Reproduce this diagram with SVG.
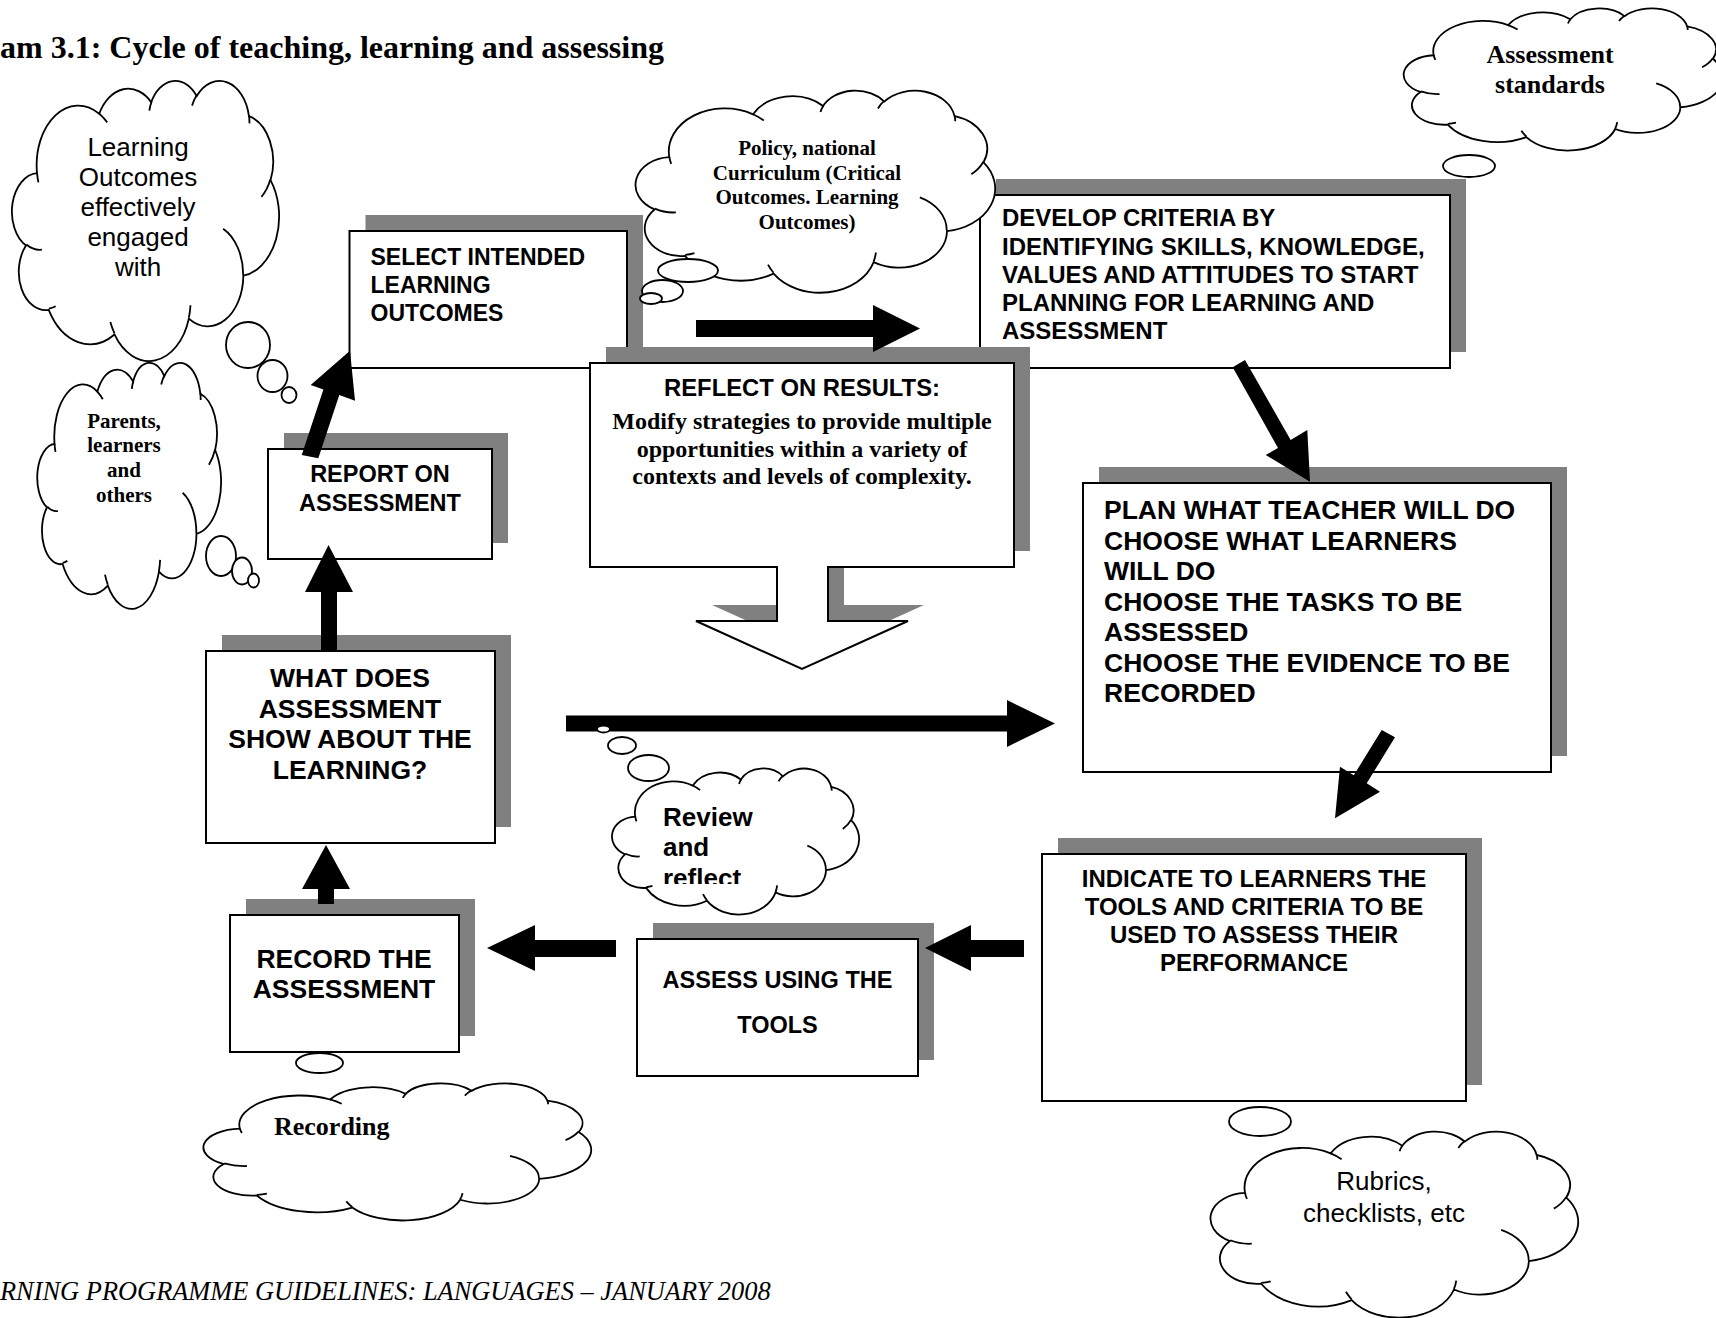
<svg xmlns="http://www.w3.org/2000/svg" width="1716" height="1318" viewBox="0 0 1716 1318">
<defs>
<style>
  .shadow{fill:#808080}
  .box{fill:#fff;stroke:#000;stroke-width:2}
  .arrow{fill:#000;stroke:none}
  .bubble{fill:#fff;stroke:#000;stroke-width:1.8}
  .sans{font-family:"Liberation Sans",Arial,sans-serif;fill:#000}
  .serif{font-family:"Liberation Serif","Times New Roman",serif;fill:#000}
  .b{font-weight:bold}
  .mid{text-anchor:middle}
</style>
<!-- thought cloud outline (office "cloud" preset), stretched to each cloud's box -->
<symbol id="cloud" viewBox="0 0 43200 43200" preserveAspectRatio="none" style="overflow:visible">
  <path d="M 3900 14370 A 6753 9190 0 0 1 14006 5201 A 5333 7267 0 0 1 22457 3431 A 4365 5945 0 0 1 29834 2478 A 4857 6595 0 0 1 38319 5573 A 5333 7273 0 0 1 41820 15457 A 6775 9220 0 0 1 37406 30200 A 5785 7867 0 0 1 28557 36811 A 6752 9215 0 0 1 16482 39264 A 7720 10543 0 0 1 5804 35470 A 4360 5918 0 0 1 2114 25546 A 4345 5945 0 0 1 3900 14370 Z" fill="#fff" stroke="#000" stroke-width="1.8" vector-effect="non-scaling-stroke"/>
  <path d="M 4693 26177 A 4345 5945 0 0 1 2162 25381 M 6928 34899 A 4360 5918 0 0 1 5820 35280 M 16478 39090 A 6752 9215 0 0 1 15810 37348 M 28827 34751 A 6752 9215 0 0 1 28560 36661 M 34129 22954 A 5785 7867 0 0 1 37380 30089 M 41798 15354 A 5333 7273 0 0 1 40349 18031 M 38324 5426 A 4857 6595 0 0 1 38401 6691 M 29078 3952 A 4857 6595 0 0 1 29821 2338 M 22141 4720 A 4365 5945 0 0 1 22500 3331 M 14000 5192 A 6753 9190 0 0 1 15300 6541 M 4127 15789 A 6753 9190 0 0 1 3900 14371" fill="none" stroke="#000" stroke-width="1.8" vector-effect="non-scaling-stroke"/>
</symbol>
<clipPath id="reviewClip"><rect x="600" y="790" width="220" height="94"/></clipPath>
</defs>

<rect x="0" y="0" width="1716" height="1318" fill="#fff"/>

<text class="serif b" x="0" y="58" font-size="32">am 3.1: Cycle of teaching, learning and assessing</text>

<!-- process boxes -->
<g id="select-outcomes">
  <rect class="shadow" x="365.5" y="215" width="277.5" height="137"/>
  <rect class="box" x="349.5" y="231" width="277.5" height="137"/>
  <text class="sans b" font-size="23" x="370.5" y="265">SELECT INTENDED</text>
  <text class="sans b" font-size="23" x="370.5" y="293">LEARNING</text>
  <text class="sans b" font-size="23" x="370.5" y="321">OUTCOMES</text>
</g>

<g id="develop-criteria">
  <rect class="shadow" x="996" y="179" width="470" height="173"/>
  <rect class="box" x="980" y="195" width="470" height="173"/>
  <text class="sans b" font-size="24" x="1002" y="226">DEVELOP CRITERIA BY</text>
  <text class="sans b" font-size="24" x="1002" y="254.5">IDENTIFYING SKILLS, KNOWLEDGE,</text>
  <text class="sans b" font-size="24" x="1002" y="283">VALUES AND ATTITUDES TO START</text>
  <text class="sans b" font-size="24" x="1002" y="311">PLANNING FOR LEARNING AND</text>
  <text class="sans b" font-size="24" x="1002" y="338.5">ASSESSMENT</text>
</g>

<g id="reflect-results">
  <path class="shadow" d="M 606 347 H 1030 V 551 H 844 V 605 H 924 L 818 653 L 712 605 H 793 V 551 H 606 Z"/>
  <path class="box" d="M 590 363 H 1014 V 567 H 828 V 621 H 908 L 802 669 L 696 621 H 777 V 567 H 590 Z"/>
  <text class="sans b mid" font-size="23.8" x="802" y="395.5">REFLECT ON RESULTS:</text>
  <text class="serif b mid" font-size="24" x="802" y="429">Modify strategies to provide multiple</text>
  <text class="serif b mid" font-size="24" x="802" y="456.5">opportunities within a variety of</text>
  <text class="serif b mid" font-size="24" x="802" y="483.5">contexts and levels of complexity.</text>
</g>

<g id="plan">
  <rect class="shadow" x="1099" y="467" width="468" height="289"/>
  <rect class="box" x="1083" y="483" width="468" height="289"/>
  <text class="sans b" font-size="26.5" x="1104" y="519">PLAN WHAT TEACHER WILL DO</text>
  <text class="sans b" font-size="26.5" x="1104" y="549.5">CHOOSE WHAT LEARNERS</text>
  <text class="sans b" font-size="26.5" x="1104" y="580">WILL DO</text>
  <text class="sans b" font-size="26.5" x="1104" y="610.5">CHOOSE THE TASKS TO BE</text>
  <text class="sans b" font-size="26.5" x="1104" y="641">ASSESSED</text>
  <text class="sans b" font-size="26.5" x="1104" y="671.5">CHOOSE THE EVIDENCE TO BE</text>
  <text class="sans b" font-size="26.5" x="1104" y="702">RECORDED</text>
</g>

<g id="report">
  <rect class="shadow" x="284" y="433" width="224" height="110"/>
  <rect class="box" x="268" y="449" width="224" height="110"/>
  <text class="sans b mid" font-size="23.5" x="380" y="482">REPORT ON</text>
  <text class="sans b mid" font-size="23.5" x="380" y="510.5">ASSESSMENT</text>
</g>

<g id="what-does-assessment-show">
  <rect class="shadow" x="222" y="635" width="289" height="192"/>
  <rect class="box" x="206" y="651" width="289" height="192"/>
  <text class="sans b mid" font-size="26.5" x="350" y="687">WHAT DOES</text>
  <text class="sans b mid" font-size="26.5" x="350" y="717.5">ASSESSMENT</text>
  <text class="sans b mid" font-size="26.5" x="350" y="748">SHOW ABOUT THE</text>
  <text class="sans b mid" font-size="26.5" x="350" y="778.5">LEARNING?</text>
</g>

<g id="record">
  <rect class="shadow" x="246" y="899" width="229" height="137"/>
  <rect class="box" x="230" y="915" width="229" height="137"/>
  <text class="sans b mid" font-size="26.5" x="344" y="967.5">RECORD THE</text>
  <text class="sans b mid" font-size="26.5" x="344" y="997.5">ASSESSMENT</text>
</g>

<g id="assess-tools">
  <rect class="shadow" x="653" y="923" width="281" height="137"/>
  <rect class="box" x="637" y="939" width="281" height="137"/>
  <text class="sans b mid" font-size="23.5" x="777.5" y="987.5">ASSESS USING THE</text>
  <text class="sans b mid" font-size="23.5" x="777.5" y="1032.5">TOOLS</text>
</g>

<g id="indicate">
  <rect class="shadow" x="1058" y="838" width="424" height="247"/>
  <rect class="box" x="1042" y="854" width="424" height="247"/>
  <text class="sans b mid" font-size="24" x="1254" y="886.5">INDICATE TO LEARNERS THE</text>
  <text class="sans b mid" font-size="24" x="1254" y="914.5">TOOLS AND CRITERIA TO BE</text>
  <text class="sans b mid" font-size="24" x="1254" y="942.5">USED TO ASSESS THEIR</text>
  <text class="sans b mid" font-size="24" x="1254" y="970.5">PERFORMANCE</text>
</g>

<!-- block arrows of the cycle -->
<g id="connectors">
  <polygon class="arrow" points="696,320 873,320 873,305 920,328.5 873,352 873,337 696,337"/>
  <polygon class="arrow" points="1232.7,367.3 1278,448 1265.7,455 1310,481.7 1307.3,430 1290.7,440 1245,360"/>
  <polygon class="arrow" points="1381.7,730 1353.8,775.3 1340,766.7 1335,818.3 1380,791.7 1366.7,783.3 1395,737.3"/>
  <polygon class="arrow" points="1024,940 971,940 971,925 925,948 971,971 971,957 1024,957"/>
  <polygon class="arrow" points="616,940 535,940 535,925 487,948 535,971 535,957 616,957"/>
  <polygon class="arrow" points="318,904 318,889 302,889 326,845 350,889 334,889 334,904"/>
  <polygon class="arrow" points="321,652 321,592 305,592 328.5,545 353,592 337,592 337,652"/>
  <polygon class="arrow" points="301.7,455 323.4,389.5 310.7,385 350,350.7 355,400.7 339.3,395.1 318.3,458.3"/>
  <polygon class="arrow" points="566,715.5 1007,715.5 1007,700 1055,723.5 1007,747 1007,731.5 566,731.5"/>
</g>

<!-- thought clouds -->
<g id="cloud-learning-outcomes">
  <use href="#cloud" x="13" y="80" width="266" height="280"/>
  <ellipse class="bubble" cx="248" cy="345" rx="22" ry="23"/>
  <ellipse class="bubble" cx="272.5" cy="376" rx="15" ry="16"/>
  <ellipse class="bubble" cx="289" cy="395" rx="7.5" ry="8"/>
  <text class="sans mid" font-size="26" x="138" y="156">Learning</text>
  <text class="sans mid" font-size="26" x="138" y="186">Outcomes</text>
  <text class="sans mid" font-size="26" x="138" y="216">effectively</text>
  <text class="sans mid" font-size="26" x="138" y="246">engaged</text>
  <text class="sans mid" font-size="26" x="138" y="276">with</text>
</g>

<g id="cloud-parents">
  <use href="#cloud" x="38" y="362" width="183" height="246"/>
  <ellipse class="bubble" cx="221" cy="556" rx="15" ry="20"/>
  <ellipse class="bubble" cx="242" cy="571" rx="10" ry="13.5"/>
  <ellipse class="bubble" cx="253.5" cy="580.5" rx="5.5" ry="7"/>
  <text class="serif b mid" font-size="21" x="124" y="428">Parents,</text>
  <text class="serif b mid" font-size="21" x="124" y="452">learners</text>
  <text class="serif b mid" font-size="21" x="124" y="477">and</text>
  <text class="serif b mid" font-size="21" x="124" y="502">others</text>
</g>

<g id="cloud-policy">
  <use href="#cloud" x="637" y="90" width="358" height="202"/>
  <ellipse class="bubble" cx="688" cy="270.5" rx="30" ry="11.5"/>
  <ellipse class="bubble" cx="662.5" cy="291" rx="20.5" ry="11"/>
  <ellipse class="bubble" cx="651" cy="298.5" rx="11" ry="5.5"/>
  <text class="serif b mid" font-size="21" x="807" y="155">Policy, national</text>
  <text class="serif b mid" font-size="21" x="807" y="179.5">Curriculum (Critical</text>
  <text class="serif b mid" font-size="21" x="807" y="204">Outcomes. Learning</text>
  <text class="serif b mid" font-size="21" x="807" y="228.5">Outcomes)</text>
</g>

<g id="cloud-assessment-standards">
  <use href="#cloud" x="1405" y="8" width="318" height="142"/>
  <ellipse class="bubble" cx="1469" cy="166" rx="26" ry="11"/>
  <text class="serif b mid" font-size="26" x="1550" y="63">Assessment</text>
  <text class="serif b mid" font-size="26" x="1550" y="93">standards</text>
</g>

<g id="cloud-review">
  <use href="#cloud" x="613" y="768" width="246" height="146"/>
  <ellipse class="bubble" cx="603.5" cy="729" rx="6.5" ry="3.5"/>
  <ellipse class="bubble" cx="622" cy="745.5" rx="14" ry="8.5"/>
  <ellipse class="bubble" cx="648.5" cy="768" rx="20.5" ry="13"/>
  <g clip-path="url(#reviewClip)">
    <text class="sans b" font-size="26" x="663" y="825.5">Review</text>
    <text class="sans b" font-size="26" x="663" y="856">and</text>
    <text class="sans b" font-size="26" x="663" y="887">reflect</text>
  </g>
</g>

<g id="cloud-recording">
  <use href="#cloud" x="205" y="1083" width="386" height="137"/>
  <ellipse class="bubble" cx="319.5" cy="1063" rx="23.5" ry="10"/>
  <text class="serif b" font-size="26" x="274" y="1135">Recording</text>
</g>

<g id="cloud-rubrics">
  <use href="#cloud" x="1212" y="1131" width="366" height="186"/>
  <ellipse class="bubble" cx="1260" cy="1121.5" rx="31" ry="14.5"/>
  <text class="sans mid" font-size="26" x="1384" y="1190">Rubrics,</text>
  <text class="sans mid" font-size="26" x="1384" y="1222">checklists, etc</text>
</g>

<text class="serif" font-style="italic" font-size="26.4" x="0" y="1300">RNING PROGRAMME GUIDELINES: LANGUAGES – JANUARY 2008</text>
</svg>
